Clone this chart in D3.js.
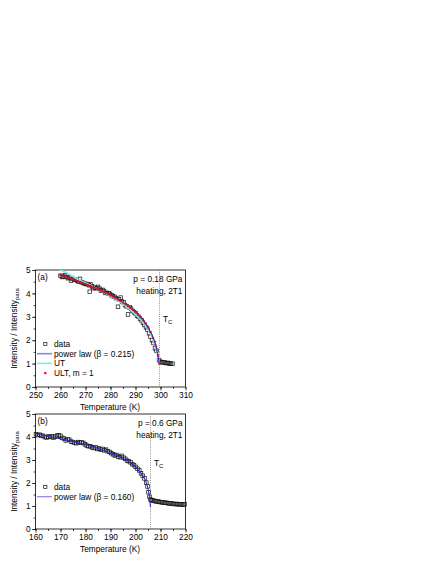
<!DOCTYPE html>
<html>
<head>
<meta charset="utf-8">
<script src="https://cdn.jsdelivr.net/npm/d3@7"></script>
<style>
  body { margin: 0; background: #fff; }
  text { font-family: "Liberation Sans", Arial, sans-serif; fill: #000; }
</style>
</head>
<body>
<div class="chart"></div>
<script>
// Panel (a): p = 0.18 GPa
var tempA = [260.0, 260.6, 261.2, 261.8, 262.4, 263.0, 263.6, 264.2, 264.8, 265.4, 266.0, 266.6, 267.2, 267.8, 268.4, 269.0, 269.6, 270.2, 270.8, 271.4, 271.7, 272.0, 272.6, 273.2, 273.8, 274.4, 275.0, 275.6, 276.2, 276.8, 277.4, 278.0, 278.6, 279.2, 279.8, 280.4, 281.0, 281.6, 282.2, 283.0, 283.4, 284.1, 284.6, 285.2, 285.8, 286.4, 287.0, 287.6, 288.2, 288.8, 289.4, 290.0, 290.6, 291.2, 291.8, 292.4, 293.0, 293.6, 294.2, 294.8, 295.4, 296.0, 296.6, 297.2, 297.8, 298.4, 299.4, 300.0, 300.6, 301.2, 301.8, 302.4, 303.0, 303.6, 304.2, 304.8];
var intA = [4.75, 4.7, 4.72, 4.78, 4.7, 4.65, 4.68, 4.55, 4.62, 4.6, 4.58, 4.55, 4.5, 4.62, 4.48, 4.45, 4.42, 4.4, 4.4, 4.35, 4.07, 4.38, 4.3, 4.22, 4.25, 4.22, 4.28, 4.2, 4.12, 4.15, 4.1, 4.02, 4.02, 4.0, 3.98, 3.92, 3.88, 3.85, 3.8, 3.43, 3.75, 3.82, 3.65, 3.62, 3.5, 3.45, 3.1, 3.4, 3.35, 3.25, 3.2, 3.15, 3.05, 3.0, 2.92, 2.85, 2.75, 2.65, 2.55, 2.45, 2.3, 2.15, 2.0, 1.88, 1.65, 1.55, 1.15, 1.08, 1.05, 1.06, 1.04, 1.02, 1.03, 1.0, 1.0, 0.99];
var powTempA = [260, 265, 270, 275, 280, 284, 288, 291, 293, 295, 296.5, 297.5, 298.5, 299.2, 299.5];
var powIntA = [4.82, 4.6, 4.4, 4.18, 3.92, 3.68, 3.38, 3.1, 2.87, 2.55, 2.25, 1.98, 1.6, 1.2, 1.0];
var utTempA = [260, 263, 267, 270, 275, 280, 285, 290, 293, 295, 297, 298, 299, 299.5];
var utIntA = [5.0, 4.85, 4.6, 4.45, 4.18, 3.88, 3.55, 3.1, 2.75, 2.45, 2.0, 1.7, 1.3, 1.0];
var ultTempA = [260, 261, 262, 263, 264, 265, 266, 267, 268, 269, 270, 271, 272, 273, 274, 275, 276, 277, 278, 279, 280, 281, 282, 283, 284, 285, 286, 287, 288, 289, 290, 291, 292, 293, 294, 295, 296, 297, 298, 299, 299.5];
var ultIntA = [4.8, 4.76, 4.72, 4.68, 4.64, 4.6, 4.56, 4.52, 4.48, 4.44, 4.4, 4.35, 4.31, 4.27, 4.22, 4.18, 4.13, 4.08, 4.03, 3.97, 3.92, 3.86, 3.8, 3.74, 3.68, 3.61, 3.54, 3.46, 3.38, 3.3, 3.2, 3.1, 2.99, 2.86, 2.72, 2.55, 2.35, 2.1, 1.78, 1.35, 1.0];

// Panel (b): p = 0.6 GPa
var tempB = [160.2, 160.9, 161.6, 162.3, 163.0, 163.7, 164.4, 165.1, 165.8, 166.5, 167.2, 167.9, 168.6, 169.3, 170.0, 170.7, 171.4, 172.1, 172.8, 173.5, 174.2, 174.9, 175.6, 176.3, 177.0, 177.7, 178.4, 179.1, 179.8, 180.5, 181.2, 181.9, 182.6, 183.3, 184.0, 184.7, 185.4, 186.1, 186.8, 187.5, 188.2, 188.9, 189.6, 190.3, 191.0, 191.7, 192.4, 193.1, 193.8, 194.5, 195.2, 195.9, 196.6, 197.3, 198.0, 198.7, 199.4, 200.1, 200.8, 201.5, 202.2, 202.9, 203.6, 204.3, 204.8, 205.2, 205.6, 206.0, 206.5, 207.0, 207.6, 208.2, 208.8, 209.4, 210.0, 210.6, 211.2, 211.8, 212.4, 213.0, 213.6, 214.2, 214.8, 215.4, 216.0, 216.6, 217.2, 217.8, 218.4, 219.0, 219.6];
var intB = [4.12, 4.08, 4.1, 4.06, 4.05, 4.0, 3.98, 4.02, 4.0, 4.03, 3.97, 4.02, 4.06, 4.08, 4.05, 3.96, 3.93, 3.85, 3.9, 3.88, 3.8, 3.78, 3.75, 3.73, 3.78, 3.75, 3.77, 3.74, 3.68, 3.63, 3.6, 3.6, 3.55, 3.52, 3.55, 3.48, 3.5, 3.45, 3.48, 3.42, 3.45, 3.38, 3.35, 3.3, 3.25, 3.2, 3.22, 3.15, 3.12, 3.18, 3.1, 3.05, 2.97, 2.95, 2.9, 2.82, 2.78, 2.7, 2.62, 2.55, 2.42, 2.32, 2.2, 2.02, 1.85, 1.6, 1.4, 1.28, 1.25, 1.24, 1.22, 1.2, 1.2, 1.18, 1.17, 1.16, 1.15, 1.14, 1.14, 1.12, 1.11, 1.12, 1.1, 1.09, 1.08, 1.09, 1.07, 1.08, 1.07, 1.06, 1.07];
var powTempB = [160, 165, 170, 175, 180, 185, 190, 195, 198, 200, 202, 203, 204, 205, 205.5, 206];
var powIntB = [4.15, 4.02, 3.92, 3.8, 3.67, 3.5, 3.3, 3.08, 2.88, 2.7, 2.45, 2.3, 2.1, 1.75, 1.45, 0.95];

var xTicksA = [250, 260, 270, 280, 290, 300, 310];
var xTicksB = [160, 170, 180, 190, 200, 210, 220];
var yTicks = [0, 1, 2, 3, 4, 5];

var svgWidth = 436;
var svgHeight = 564;
var fs = "8.3px";
var fsSub = "6px";

var svg = d3.select(".chart")
  .append("svg")
  .attr("width", svgWidth)
  .attr("height", svgHeight);

var blue = "#2b2bd0";
var cyan = "#7fe8f2";

function drawPanel(p) {
  var x = d3.scaleLinear().domain(p.xDomain).range([35.5, 185.5]);
  var y = d3.scaleLinear().domain([0, 5]).range([p.bottom, p.top]);
  var g = svg.append("g");

  // minor ticks
  var xMinor = d3.range(p.xDomain[0], p.xDomain[1] + 0.1, 5);
  g.append("g").attr("transform", `translate(0, ${p.bottom})`)
    .call(d3.axisBottom(x).tickValues(xMinor).tickSize(2).tickFormat(""))
    .call(a => a.select(".domain").remove());
  g.append("g").attr("transform", "translate(35.5, 0)")
    .call(d3.axisLeft(y).tickValues(d3.range(0, 5.01, 0.5)).tickSize(2).tickFormat(""))
    .call(a => a.select(".domain").remove());

  // major ticks + labels
  var bx = g.append("g").attr("transform", `translate(0, ${p.bottom})`)
    .call(d3.axisBottom(x).tickValues(p.xTicks).tickSize(3.5).tickPadding(1.5));
  var ly = g.append("g").attr("transform", "translate(35.5, 0)")
    .call(d3.axisLeft(y).tickValues(yTicks).tickFormat(d3.format("d")).tickSize(3.5).tickPadding(1.5));
  [bx, ly].forEach(function (a) {
    a.select(".domain").remove();
    a.selectAll("text").style("font-family", "Liberation Sans, Arial, sans-serif")
      .style("font-size", fs);
  });
  g.selectAll(".tick line").attr("stroke", "#000").attr("stroke-width", 0.7);

  // frame
  g.append("rect")
    .attr("x", 35.5).attr("y", p.top)
    .attr("width", 150).attr("height", p.bottom - p.top)
    .attr("fill", "none").attr("stroke", "#000").attr("stroke-width", 0.8);

  // Tc line
  g.append("line")
    .attr("x1", x(p.tc)).attr("x2", x(p.tc))
    .attr("y1", p.top).attr("y2", p.bottom)
    .attr("stroke", "#777").attr("stroke-width", 0.8)
    .attr("stroke-dasharray", "1,1.2");

  // data squares
  g.selectAll("rect.pt")
    .data(p.temps)
    .enter()
    .append("rect")
    .attr("class", "pt")
    .attr("x", (d, i) => x(d) - 1.8)
    .attr("y", (d, i) => y(p.ints[i]) - 1.8)
    .attr("width", 3.6).attr("height", 3.6)
    .attr("fill", "none").attr("stroke", "#111").attr("stroke-width", 0.7);

  var line = d3.line().curve(d3.curveMonotoneX);

  p.lines.forEach(function (l) {
    g.append("path")
      .attr("d", line(l.t.map((d, i) => [x(d), y(l.v[i])])))
      .attr("fill", "none")
      .attr("stroke", l.color)
      .attr("stroke-width", l.width);
  });

  if (p.dots) {
    g.selectAll("rect.ult")
      .data(p.dots.t)
      .enter()
      .append("rect")
      .attr("class", "ult")
      .attr("x", (d, i) => x(d) - 1.1)
      .attr("y", (d, i) => y(p.dots.v[i]) - 1.1)
      .attr("width", 2.2).attr("height", 2.2)
      .attr("fill", "#e0101a");
  }

  // annotations
  g.append("text").attr("x", 37.5).attr("y", p.top + 10)
    .style("font-size", fs).text(p.tag);
  g.append("text").attr("x", 182.5).attr("y", p.top + 11.5)
    .attr("text-anchor", "end").style("font-size", fs).text(p.pressure);
  g.append("text").attr("x", 182.5).attr("y", p.top + 23.5)
    .attr("text-anchor", "end").style("font-size", fs).text("heating, 2T1");
  var tc = g.append("text").attr("x", x(p.tc) + 3.5).attr("y", p.tcY)
    .style("font-size", fs);
  tc.append("tspan").text("T");
  tc.append("tspan").attr("dy", 2).style("font-size", fsSub).text("C");

  // legend
  p.legend.forEach(function (item, i) {
    var ly0 = p.legendY + i * 9.7;
    if (item.type === "square") {
      g.append("rect").attr("x", 43.7).attr("y", ly0 - 1.6)
        .attr("width", 3.2).attr("height", 3.2)
        .attr("fill", "none").attr("stroke", "#111").attr("stroke-width", 0.7);
    } else if (item.type === "line") {
      g.append("line").attr("x1", 37).attr("x2", 52).attr("y1", ly0).attr("y2", ly0)
        .attr("stroke", item.color).attr("stroke-width", item.width);
    } else {
      g.append("rect").attr("x", 44.2).attr("y", ly0 - 1.1)
        .attr("width", 2.2).attr("height", 2.2).attr("fill", "#e0101a");
    }
    g.append("text").attr("x", 54).attr("y", ly0 + 3)
      .style("font-size", fs).text(item.label);
  });

  // axis titles
  g.append("text")
    .attr("x", 110).attr("y", p.bottom + 22.5)
    .attr("text-anchor", "middle").style("font-size", fs)
    .text("Temperature (K)");
  var yt = g.append("text")
    .attr("transform", `translate(17, ${(p.top + p.bottom) / 2}) rotate(-90)`)
    .attr("text-anchor", "middle").style("font-size", fs);
  yt.append("tspan").text("Intensity / Intensity");
  yt.append("tspan").attr("dy", 2).style("font-size", fsSub).text("para");
}

drawPanel({
  xDomain: [250, 310], xTicks: xTicksA, top: 270, bottom: 387,
  temps: tempA, ints: intA, tc: 299.6, tcY: 322,
  tag: "(a)", pressure: "p = 0.18 GPa",
  lines: [
    { t: utTempA, v: utIntA, color: cyan, width: 1.8 },
    { t: powTempA, v: powIntA, color: blue, width: 1.1 }
  ],
  dots: { t: ultTempA, v: ultIntA },
  legendY: 344,
  legend: [
    { type: "square", label: "data" },
    { type: "line", color: "#8585ea", width: 1.6, label: "power law (\u03b2 = 0.215)" },
    { type: "line", color: cyan, width: 1.6, label: "UT" },
    { type: "dot", label: "ULT, m = 1" }
  ]
});

drawPanel({
  xDomain: [160, 220], xTicks: xTicksB, top: 414, bottom: 529,
  temps: tempB, ints: intB, tc: 206, tcY: 466,
  tag: "(b)", pressure: "p = 0.6 GPa",
  lines: [
    { t: powTempB, v: powIntB, color: blue, width: 1.1 }
  ],
  dots: null,
  legendY: 487,
  legend: [
    { type: "square", label: "data" },
    { type: "line", color: "#8585ea", width: 1.2, label: "power law (\u03b2 = 0.160)" }
  ]
});
</script>
</body>
</html>
